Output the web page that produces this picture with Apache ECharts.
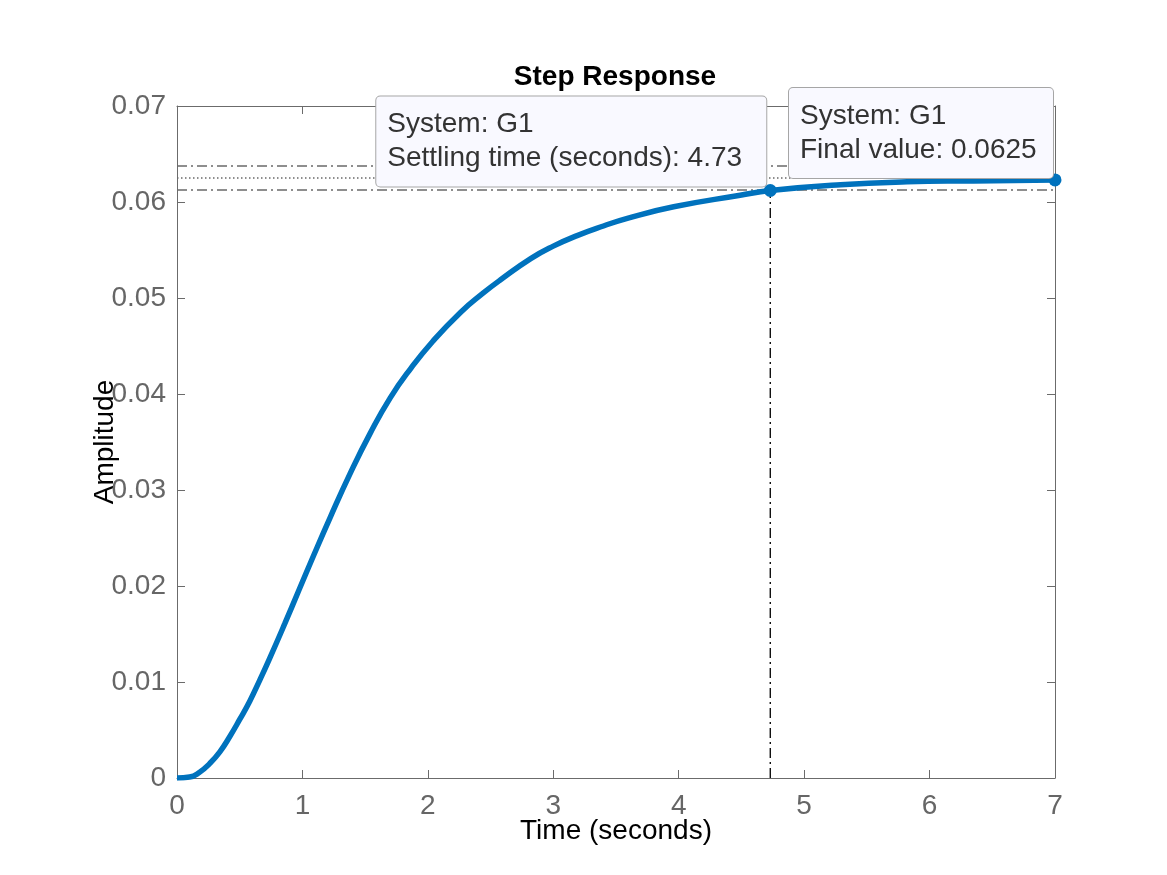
<!DOCTYPE html>
<html>
<head>
<meta charset="utf-8">
<title>Step Response</title>
<script src="https://cdn.jsdelivr.net/npm/echarts@6/dist/echarts.min.js"></script>
<style>
  html, body { margin: 0; padding: 0; background: #fff; }
  #step { width: 1167px; height: 875px; }
</style>
</head>
<body>
<div id="step"></div>
<script>
// step response of G1
var timeSec = [0, 0.10, 0.18, 0.26, 0.34, 0.42, 0.50, 0.58, 0.66, 0.73, 0.86, 0.97, 1.09, 1.22, 1.38, 1.54, 1.70, 1.86,
  2.04, 2.26, 2.44, 2.58, 2.82, 3.0, 3.19, 3.40, 3.59, 3.96, 4.49, 4.73, 5.29, 5.82, 6.35, 7.0];
var amplitude = [0, 0.0001, 0.0006, 0.0015, 0.0027, 0.0043, 0.0061, 0.0080, 0.0102, 0.0122, 0.0161, 0.0195, 0.0232, 0.0271, 0.0317, 0.0359, 0.0396, 0.0426,
  0.0455, 0.0485, 0.0505, 0.0519, 0.0541, 0.0554, 0.0565, 0.0575, 0.0583, 0.0595, 0.0607, 0.0612, 0.0618, 0.0621, 0.0622, 0.0623];

var xTicks = [0, 1, 2, 3, 4, 5, 6, 7];
var yTicks = [0, 0.01, 0.02, 0.03, 0.04, 0.05, 0.06, 0.07];

var finalValue = 0.0625;
var settleBand = [0.06125, 0.06375];   // +-2% of final value
var settleTime = 4.73;
var settlePoint = [4.73, 0.0612];
var finalPoint = [7, 0.0623];

var FONT = '"Liberation Sans", Helvetica, Arial, sans-serif';
var AX = '#6b6b6b';
var BLUE = '#0072BD';
var DASHDOT = [10, 4, 2, 4];

var curve = timeSec.map(function (t, i) { return [t, amplitude[i]]; });

function refLine(data, color, dash) {
  return {
    type: 'line', data: data, symbol: 'none', silent: true, z: 2,
    lineStyle: { color: color, width: 1.4, type: dash }
  };
}

// data tip box, placed up and to the left of its marker
function tipLabel(text, w, pos) {
  return {
    show: true,
    formatter: text,
    position: pos,
    align: 'left',
    verticalAlign: 'bottom',
    width: w,
    fontFamily: FONT,
    fontSize: 28,
    lineHeight: 34,
    color: '#333333',
    backgroundColor: '#f9f9ff',
    borderColor: '#a6a6a6',
    borderWidth: 1,
    borderRadius: 4,
    padding: [11, 10, 11, 11]
  };
}

var baseX = {
  type: 'value', min: xTicks[0], max: xTicks[xTicks.length - 1], interval: 1,
  axisLine: { show: true, onZero: false, lineStyle: { color: AX, width: 1 } },
  axisTick: { show: true, inside: true, length: 8, lineStyle: { color: AX } },
  splitLine: { show: false }
};
var baseY = {
  type: 'value', min: yTicks[0], max: yTicks[yTicks.length - 1], interval: 0.01,
  axisLine: { show: true, onZero: false, lineStyle: { color: AX, width: 1 } },
  axisTick: { show: true, inside: true, length: 8, lineStyle: { color: AX } },
  splitLine: { show: false }
};

var option = {
  animation: false,
  title: {
    text: 'Step Response',
    left: 615, top: 63, padding: 0, textAlign: 'center',
    textStyle: { fontFamily: FONT, fontSize: 28, fontWeight: 'bold', color: '#000' }
  },
  grid: { left: 177, right: 112, top: 106, bottom: 97 },
  xAxis: [
    Object.assign({}, baseX, {
      position: 'bottom',
      axisLabel: { fontFamily: FONT, fontSize: 28, color: '#666', margin: 14 },
      name: 'Time (seconds)', nameLocation: 'middle', nameGap: 39, nameMoveOverlap: false,
      nameTextStyle: { fontFamily: FONT, fontSize: 28, color: '#000' }
    }),
    Object.assign({}, baseX, { position: 'top', axisLabel: { show: false } })
  ],
  yAxis: [
    Object.assign({}, baseY, {
      position: 'left',
      axisLabel: {
        fontFamily: FONT, fontSize: 28, color: '#666', margin: 11,
        formatter: function (v) { return v === 0 ? '0' : v.toFixed(2); }
      },
      name: 'Amplitude', nameLocation: 'middle', nameGap: 58, nameRotate: 90, nameMoveOverlap: false,
      nameTextStyle: { fontFamily: FONT, fontSize: 28, color: '#000' }
    }),
    Object.assign({}, baseY, { position: 'right', axisLabel: { show: false } })
  ],
  series: [
    refLine([[xTicks[0], settleBand[1]], [xTicks[7], settleBand[1]]], '#6a6a6a', DASHDOT),
    refLine([[xTicks[0], finalValue], [xTicks[7], finalValue]], '#6a6a6a', [1.5, 2.5]),
    refLine([[xTicks[0], settleBand[0]], [xTicks[7], settleBand[0]]], '#6a6a6a', DASHDOT),
    refLine([[settleTime, 0], [settleTime, settleBand[0]]], '#111', DASHDOT),
    {
      name: 'G1', type: 'line', data: curve,
      showSymbol: false, smooth: 0.5, z: 5,
      lineStyle: { color: BLUE, width: 5.5 }
    },
    {
      type: 'scatter', symbolSize: 13, z: 10, clip: false,
      itemStyle: { color: BLUE, opacity: 1 },
      data: [
        { value: settlePoint, label: tipLabel('System: G1\nSettling time (seconds): 4.73', 369, [3.5 - 391, 2.5]) },
        { value: finalPoint, label: tipLabel('System: G1\nFinal value: 0.0625', 243, [5.5 - 265, 4.5]) }
      ]
    }
  ]
};

var stepChart = echarts.init(document.getElementById('step'));
stepChart.setOption(option);
</script>
</body>
</html>
